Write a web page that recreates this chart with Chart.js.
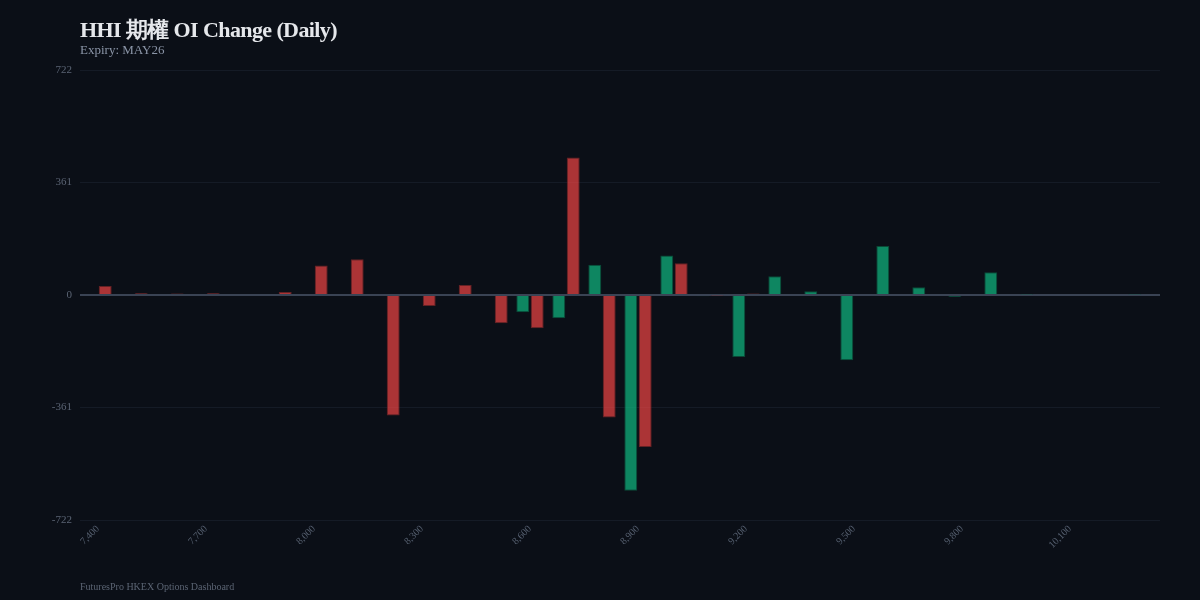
<!DOCTYPE html>
<html>
<head>
<meta charset="utf-8">
<script src="https://cdn.jsdelivr.net/npm/chart.js@4.4.1/dist/chart.umd.min.js"></script>
<style>
  html, body { margin: 0; padding: 0; background: #0b0f17; }
  #wrap { position: relative; width: 1200px; height: 600px; background: #0b0f17; overflow: hidden; }
  #c { position: absolute; left: 0; top: 0; }
  .t { position: absolute; font-family: "Liberation Serif", "DejaVu Serif", serif; white-space: nowrap; }
  #title { left: 80px; top: 15px; font-size: 22px; font-weight: bold; color: #e5e7eb; letter-spacing: -0.6px; }
  #sub { left: 80px; top: 42px; font-size: 13px; color: #8b95a7; }
  #foot { left: 80px; top: 581px; font-size: 10px; color: #5b6473; }
</style>
</head>
<body>
<div id="wrap">
  <canvas id="c" width="1200" height="600"></canvas>
  <div class="t" id="title">HHI 期權 OI Change (Daily)</div>
  <div class="t" id="sub">Expiry: MAY26</div>
  <div class="t" id="foot">FuturesPro HKEX Options Dashboard</div>
</div>
<script>
const strikes = [7400,7500,7600,7700,7800,7900,8000,8100,8200,8300,8400,8500,8600,8700,8800,8900,9000,9100,9200,9300,9400,9500,9600,9700,9800,9900,10000,10100,10200,10300];
const callChange = [null,null,null,null,null,null,null,null,null,null,null,null,-55,-75,97,-628,127,-4,-199,60,12,-209,157,25,-6,73,2,null,null,2];
const putChange  = [29,6,5,6,null,10,95,115,-387,-35,32,-91,-107,441,-393,-488,102,-2,5,null,null,null,null,null,null,null,null,null,null,null];
const yTicks = [-722,-361,0,361,722];

const labels = strikes.map(s => s.toLocaleString('en-US'));
const tickFont = { family: "'Liberation Serif', 'DejaVu Serif', serif", size: 11 };

new Chart(document.getElementById('c'), {
  type: 'bar',
  data: {
    labels: labels,
    datasets: [
      { label: 'Call OI Δ', data: callChange, backgroundColor: 'rgba(16,185,129,0.7)', borderColor: 'rgba(10,80,58,0.9)', borderWidth: 1 },
      { label: 'Put OI Δ', data: putChange, backgroundColor: 'rgba(239,68,68,0.7)', borderColor: 'rgba(110,36,38,0.9)', borderWidth: 1 }
    ]
  },
  options: {
    responsive: false,
    animation: false,
    devicePixelRatio: 1,
    layout: { padding: { left: 0, right: 40, top: 70, bottom: 0 } },
    plugins: { legend: { display: false }, tooltip: { enabled: false } },
    scales: {
      x: {
        grid: { display: false, drawTicks: false },
        border: { display: false },
        ticks: {
          color: '#566070', font: { family: tickFont.family, size: 10 },
          autoSkip: false, maxRotation: 45, minRotation: 45, padding: 3,
          callback: function(v, i) { return i % 3 === 0 ? labels[i] : ''; }
        },
        afterFit: function(s) { s.height = 80; }
      },
      y: {
        min: yTicks[0], max: yTicks[yTicks.length - 1],
        afterBuildTicks: function(s) { s.ticks = yTicks.map(v => ({ value: v })); },
        grid: {
          drawTicks: false,
          color: function(ctx) { return ctx.tick && ctx.tick.value === 0 ? '#3a4354' : '#151b26'; },
          lineWidth: function(ctx) { return ctx.tick && ctx.tick.value === 0 ? 2 : 1; }
        },
        border: { display: false },
        ticks: { color: '#5b6474', font: tickFont, padding: 8, callback: v => String(v) },
        afterFit: function(s) { s.width = 80; }
      }
    }
  }
});
</script>
</body>
</html>
